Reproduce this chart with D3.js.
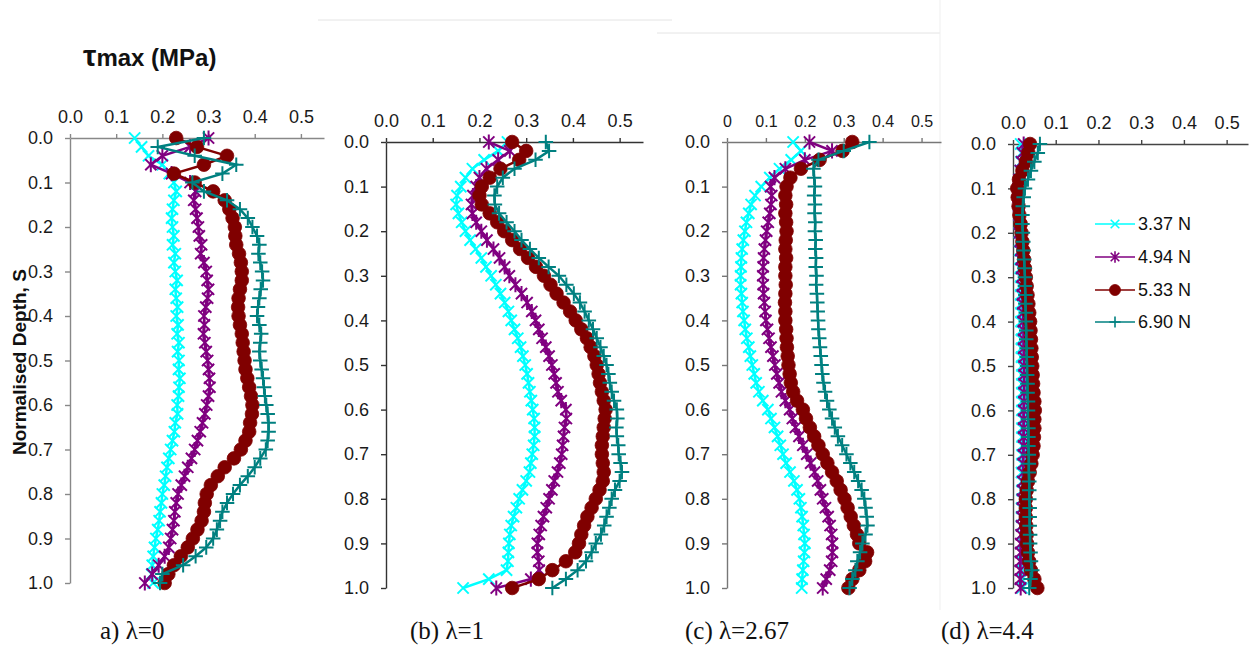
<!DOCTYPE html>
<html>
<head>
<meta charset="utf-8">
<script src="https://cdn.jsdelivr.net/npm/d3@7"></script>
<style>
  html, body { margin: 0; padding: 0; background: #fff; }
  svg { display: block; font-family: "Liberation Sans", Arial, sans-serif; }
</style>
</head>
<body>
<svg id="chart" width="1250" height="655"></svg>
<script>
// normalised depth S, sampled every 0.02
const depth = [
  0, 0.02, 0.04, 0.06, 0.08, 0.1, 0.12, 0.14, 0.16, 0.18,
  0.2, 0.22, 0.24, 0.26, 0.28, 0.3, 0.32, 0.34, 0.36, 0.38,
  0.4, 0.42, 0.44, 0.46, 0.48, 0.5, 0.52, 0.54, 0.56, 0.58,
  0.6, 0.62, 0.64, 0.66, 0.68, 0.7, 0.72, 0.74, 0.76, 0.78,
  0.8, 0.82, 0.84, 0.86, 0.88, 0.9, 0.92, 0.94, 0.96, 0.98,
  1.0
];
const loads = ["3.37 N", "4.94 N", "5.33 N", "6.90 N"];
const captions = ["a) \u03bb=0", "(b) \u03bb=1", "(c) \u03bb=2.67", "(d) \u03bb=4.4"];
const xTicks = [0, 0.1, 0.2, 0.3, 0.4, 0.5];
const yTicks = [0, 0.1, 0.2, 0.3, 0.4, 0.5, 0.6, 0.7, 0.8, 0.9, 1.0];

// tau max (MPa), lambda = 0
const a_337 = [0.14,0.155,0.17,0.2,0.215,0.225,0.23,0.225,0.222,0.22,
  0.222,0.225,0.222,0.228,0.225,0.228,0.232,0.228,0.23,0.233,
  0.23,0.234,0.232,0.236,0.233,0.236,0.235,0.238,0.236,0.235,
  0.232,0.233,0.228,0.226,0.222,0.218,0.214,0.21,0.207,0.204,
  0.2,0.198,0.195,0.193,0.19,0.186,0.183,0.18,0.178,0.177,
  0.18];
const a_494 = [0.30,0.26,0.2,0.175,0.22,0.26,0.272,0.268,0.272,0.275,
  0.278,0.28,0.285,0.283,0.29,0.295,0.297,0.3,0.298,0.294,
  0.29,0.291,0.289,0.292,0.295,0.298,0.3,0.302,0.303,0.3,
  0.296,0.292,0.287,0.282,0.276,0.27,0.263,0.255,0.248,0.241,
  0.234,0.23,0.227,0.225,0.222,0.218,0.214,0.205,0.192,0.178,
  0.162];
const a_533 = [0.23,0.275,0.34,0.29,0.225,0.27,0.31,0.335,0.345,0.352,
  0.357,0.358,0.36,0.366,0.37,0.372,0.372,0.368,0.365,0.364,
  0.365,0.368,0.372,0.374,0.376,0.378,0.38,0.384,0.388,0.392,
  0.395,0.394,0.39,0.388,0.38,0.37,0.355,0.335,0.32,0.305,
  0.296,0.292,0.29,0.285,0.276,0.266,0.255,0.24,0.225,0.213,
  0.205];
const a_690 = [0.29,0.19,0.27,0.36,0.33,0.265,0.29,0.34,0.368,0.385,
  0.395,0.405,0.41,0.408,0.412,0.416,0.418,0.413,0.41,0.407,
  0.405,0.41,0.414,0.412,0.41,0.412,0.415,0.418,0.42,0.422,
  0.425,0.428,0.43,0.43,0.428,0.424,0.412,0.4,0.385,0.368,
  0.353,0.34,0.33,0.325,0.318,0.31,0.295,0.272,0.245,0.2,
  0.195];

// lambda = 1
const b_337 = [0.26,0.24,0.21,0.185,0.17,0.16,0.152,0.15,0.155,0.162,
  0.17,0.18,0.192,0.204,0.214,0.225,0.235,0.245,0.254,0.262,
  0.268,0.275,0.282,0.288,0.293,0.298,0.302,0.305,0.308,0.311,
  0.314,0.317,0.318,0.318,0.316,0.313,0.31,0.307,0.3,0.292,
  0.285,0.279,0.273,0.268,0.265,0.263,0.262,0.261,0.258,0.22,
  0.165];
const b_494 = [0.22,0.265,0.24,0.215,0.2,0.193,0.186,0.183,0.185,0.193,
  0.204,0.216,0.23,0.243,0.254,0.264,0.277,0.29,0.302,0.312,
  0.32,0.327,0.334,0.342,0.349,0.355,0.36,0.364,0.368,0.375,
  0.385,0.386,0.382,0.38,0.378,0.376,0.372,0.367,0.36,0.355,
  0.349,0.343,0.337,0.332,0.328,0.324,0.324,0.327,0.328,0.31,
  0.236];
const b_533 = [0.27,0.3,0.285,0.245,0.222,0.205,0.2,0.205,0.222,0.238,
  0.253,0.27,0.287,0.304,0.321,0.338,0.352,0.365,0.38,0.394,
  0.406,0.418,0.43,0.438,0.446,0.451,0.455,0.458,0.462,0.466,
  0.47,0.468,0.466,0.464,0.462,0.462,0.464,0.466,0.464,0.457,
  0.449,0.44,0.431,0.424,0.418,0.413,0.405,0.385,0.356,0.327,
  0.27];
const b_690 = [0.342,0.349,0.32,0.275,0.25,0.238,0.232,0.233,0.242,0.258,
  0.275,0.29,0.308,0.327,0.348,0.37,0.386,0.402,0.415,0.425,
  0.434,0.443,0.451,0.459,0.466,0.472,0.476,0.479,0.483,0.488,
  0.494,0.495,0.493,0.494,0.497,0.498,0.502,0.505,0.5,0.49,
  0.483,0.478,0.472,0.467,0.46,0.449,0.44,0.428,0.41,0.385,
  0.356];

// lambda = 2.67
const c_337 = [0.17,0.19,0.165,0.135,0.11,0.088,0.072,0.062,0.056,0.05,
  0.046,0.042,0.039,0.037,0.036,0.035,0.035,0.037,0.039,0.041,
  0.044,0.047,0.051,0.056,0.06,0.065,0.07,0.075,0.082,0.092,
  0.105,0.113,0.122,0.13,0.137,0.144,0.152,0.162,0.172,0.18,
  0.186,0.19,0.193,0.196,0.198,0.2,0.199,0.197,0.195,0.193,
  0.192];
const c_494 = [0.212,0.27,0.2,0.15,0.122,0.112,0.115,0.113,0.11,0.106,
  0.102,0.099,0.096,0.094,0.093,0.092,0.093,0.094,0.096,0.098,
  0.1,0.104,0.108,0.113,0.118,0.123,0.128,0.134,0.14,0.15,
  0.161,0.168,0.176,0.185,0.195,0.205,0.215,0.225,0.233,0.24,
  0.246,0.253,0.26,0.265,0.269,0.271,0.271,0.269,0.264,0.255,
  0.246];
const c_533 = [0.322,0.297,0.238,0.19,0.163,0.153,0.15,0.152,0.15,0.152,
  0.153,0.151,0.15,0.152,0.15,0.15,0.151,0.15,0.149,0.15,
  0.15,0.152,0.153,0.154,0.156,0.158,0.161,0.164,0.17,0.18,
  0.195,0.203,0.213,0.224,0.235,0.246,0.258,0.27,0.282,0.292,
  0.302,0.31,0.318,0.326,0.334,0.34,0.36,0.355,0.34,0.322,
  0.312];
const c_690 = [0.366,0.3,0.235,0.222,0.224,0.226,0.224,0.226,0.225,0.227,
  0.226,0.228,0.227,0.229,0.228,0.23,0.229,0.231,0.232,0.233,
  0.234,0.235,0.237,0.239,0.241,0.243,0.245,0.248,0.252,0.257,
  0.263,0.27,0.277,0.285,0.296,0.307,0.317,0.327,0.337,0.346,
  0.353,0.356,0.359,0.361,0.356,0.348,0.342,0.335,0.33,0.322,
  0.315];

// lambda = 4.4
const d_337 = [0.018,0.020,0.019,0.017,0.015,0.013,0.013,0.014,0.014,0.015,
  0.015,0.016,0.016,0.017,0.017,0.018,0.018,0.018,0.019,0.019,
  0.019,0.020,0.020,0.020,0.020,0.021,0.021,0.021,0.021,0.021,
  0.021,0.022,0.021,0.021,0.022,0.021,0.021,0.020,0.021,0.021,
  0.021,0.020,0.020,0.020,0.021,0.021,0.020,0.020,0.021,0.020,
  0.021];
const d_494 = [0.025,0.022,0.020,0.017,0.014,0.012,0.012,0.013,0.014,0.015,
  0.016,0.017,0.018,0.019,0.020,0.021,0.022,0.022,0.023,0.024,
  0.024,0.025,0.025,0.025,0.026,0.026,0.026,0.026,0.026,0.026,
  0.025,0.025,0.025,0.025,0.025,0.024,0.024,0.024,0.023,0.023,
  0.022,0.022,0.021,0.020,0.019,0.018,0.018,0.017,0.017,0.017,
  0.018];
const d_533 = [0.040,0.036,0.030,0.022,0.014,0.010,0.011,0.013,0.015,0.018,
  0.020,0.022,0.024,0.026,0.028,0.030,0.032,0.034,0.036,0.038,
  0.040,0.041,0.042,0.043,0.044,0.045,0.046,0.047,0.048,0.050,
  0.051,0.050,0.050,0.049,0.048,0.046,0.043,0.039,0.035,0.032,
  0.030,0.030,0.030,0.031,0.032,0.033,0.035,0.038,0.042,0.050,
  0.057];
const d_690 = [0.063,0.058,0.050,0.042,0.035,0.028,0.025,0.023,0.022,0.022,
  0.023,0.024,0.025,0.026,0.027,0.028,0.028,0.029,0.029,0.030,
  0.030,0.031,0.031,0.032,0.032,0.033,0.033,0.034,0.034,0.035,
  0.035,0.035,0.036,0.036,0.036,0.037,0.037,0.037,0.038,0.038,
  0.038,0.039,0.039,0.039,0.040,0.040,0.041,0.042,0.045,0.041,
  0.038];

const colors = ["#00ffff", "#800080", "#800000", "#008080"];
const markers = ["x", "star", "circle", "plus"];

const svg = d3.select("#chart");

function markerPath(type, s) {
  if (type === "x") return `M${-s},${-s}L${s},${s}M${-s},${s}L${s},${-s}`;
  if (type === "star") return `M${-s},${-s}L${s},${s}M${-s},${s}L${s},${-s}M0,${-s * 1.35}L0,${s * 1.35}`;
  return `M${-s * 1.3},0L${s * 1.3},0M0,${-s * 1.3}L0,${s * 1.3}`;
}

function drawMarker(sel, type, color, big) {
  if (type === "circle") {
    sel.append("circle").attr("r", big ? 6.8 : 5.5).attr("fill", color).attr("stroke", color).attr("stroke-width", 0.8);
  } else {
    sel.append("path").attr("d", markerPath(type, big ? 5.6 : 4.3))
      .attr("fill", "none").attr("stroke", color).attr("stroke-width", big ? 2 : 1.6);
  }
}

// faint scan edges in the source figure
svg.append("line").attr("x1", 318).attr("x2", 672).attr("y1", 20).attr("y2", 20).attr("stroke", "#e4e4e4");
svg.append("line").attr("x1", 657).attr("x2", 940).attr("y1", 33).attr("y2", 33).attr("stroke", "#e4e4e4");
svg.append("line").attr("x1", 940).attr("x2", 940).attr("y1", 0).attr("y2", 610).attr("stroke", "#efefef");

const panels = [
  { series: [a_337, a_494, a_533, a_690], x0: 70, x1: 324, y0: 138, y1: 583, axis: "#888", xFont: 18, capX: 100 },
  { series: [b_337, b_494, b_533, b_690], x0: 386, x1: 643, y0: 142, y1: 588, axis: "#333", xFont: 18, capX: 410 },
  { series: [c_337, c_494, c_533, c_690], x0: 727, x1: 941, y0: 142, y1: 588, axis: "#777", xFont: 16, capX: 685, zeroLabel: "0" },
  { series: [d_337, d_494, d_533, d_690], x0: 1013, x1: 1248, y0: 144, y1: 588, axis: "#444", xFont: 18, capX: 941 }
];

panels.forEach((p, pi) => {
  const x = d3.scaleLinear().domain([0, 0.55]).range([p.x0, p.x1]);
  const y = d3.scaleLinear().domain([0, 1]).range([p.y0, p.y1]);
  const g = svg.append("g");

  const fmt = d => (d === 0 && p.zeroLabel) ? p.zeroLabel : d.toFixed(1);

  const xa = g.append("g")
    .attr("transform", `translate(0,${p.y0})`)
    .call(d3.axisTop(x).tickValues(xTicks).tickFormat(fmt).tickSize(4).tickPadding(11).tickSizeOuter(0));
  xa.attr("font-family", null).attr("font-size", p.xFont);
  xa.selectAll("text").attr("fill", "#1a1a1a");

  const ya = g.append("g")
    .attr("transform", `translate(${p.x0},0)`)
    .call(d3.axisLeft(y).tickValues(yTicks).tickFormat(d3.format(".1f")).tickSize(5).tickPadding(12).tickSizeOuter(0));
  ya.attr("font-family", null).attr("font-size", 18);
  ya.selectAll("text").attr("fill", "#1a1a1a");

  g.selectAll(".domain, .tick line").attr("stroke", p.axis).attr("stroke-width", 1.4);

  const line = d3.line().x(d => x(d[0])).y(d => y(d[1]));

  p.series.forEach((vals, si) => {
    const pts = vals.map((v, i) => [v, depth[i]]);
    const sg = g.append("g");
    sg.append("path").datum(pts).attr("d", line)
      .attr("fill", "none").attr("stroke", colors[si]).attr("stroke-width", 2.5);
    sg.selectAll("g.m").data(pts).join("g").attr("class", "m")
      .attr("transform", d => `translate(${x(d[0])},${y(d[1])})`)
      .each(function () { drawMarker(d3.select(this), markers[si], colors[si], true); });
  });

  svg.append("text")
    .attr("x", p.capX).attr("y", 639)
    .attr("font-family", "'Liberation Serif', 'Times New Roman', serif")
    .attr("font-size", 25).attr("fill", "#111")
    .text(captions[pi]);
});

// legend
const legendY = [224, 257, 290, 322];
loads.forEach((name, i) => {
  const lg = svg.append("g").attr("transform", `translate(1095,${legendY[i]})`);
  lg.append("line").attr("x1", 0).attr("x2", 40).attr("stroke", colors[i]).attr("stroke-width", 1.6);
  const m = lg.append("g").attr("transform", "translate(20,0)");
  drawMarker(m, markers[i], colors[i], false);
  lg.append("text").attr("x", 43).attr("y", 0).attr("dy", "0.35em")
    .attr("font-size", 18).attr("fill", "#111").text(name);
});

// title
const title = svg.append("text").attr("x", 83).attr("y", 66)
  .attr("font-weight", "bold").attr("font-size", 24).attr("fill", "#111");
title.append("tspan").attr("font-size", 30).text("\u03c4");
title.append("tspan").text("max (MPa)");

// y label
svg.append("text")
  .attr("transform", "translate(26,455) rotate(-90)")
  .attr("font-weight", "bold").attr("font-size", 19).attr("fill", "#111")
  .text("Normalised Depth, S");
</script>
</body>
</html>
